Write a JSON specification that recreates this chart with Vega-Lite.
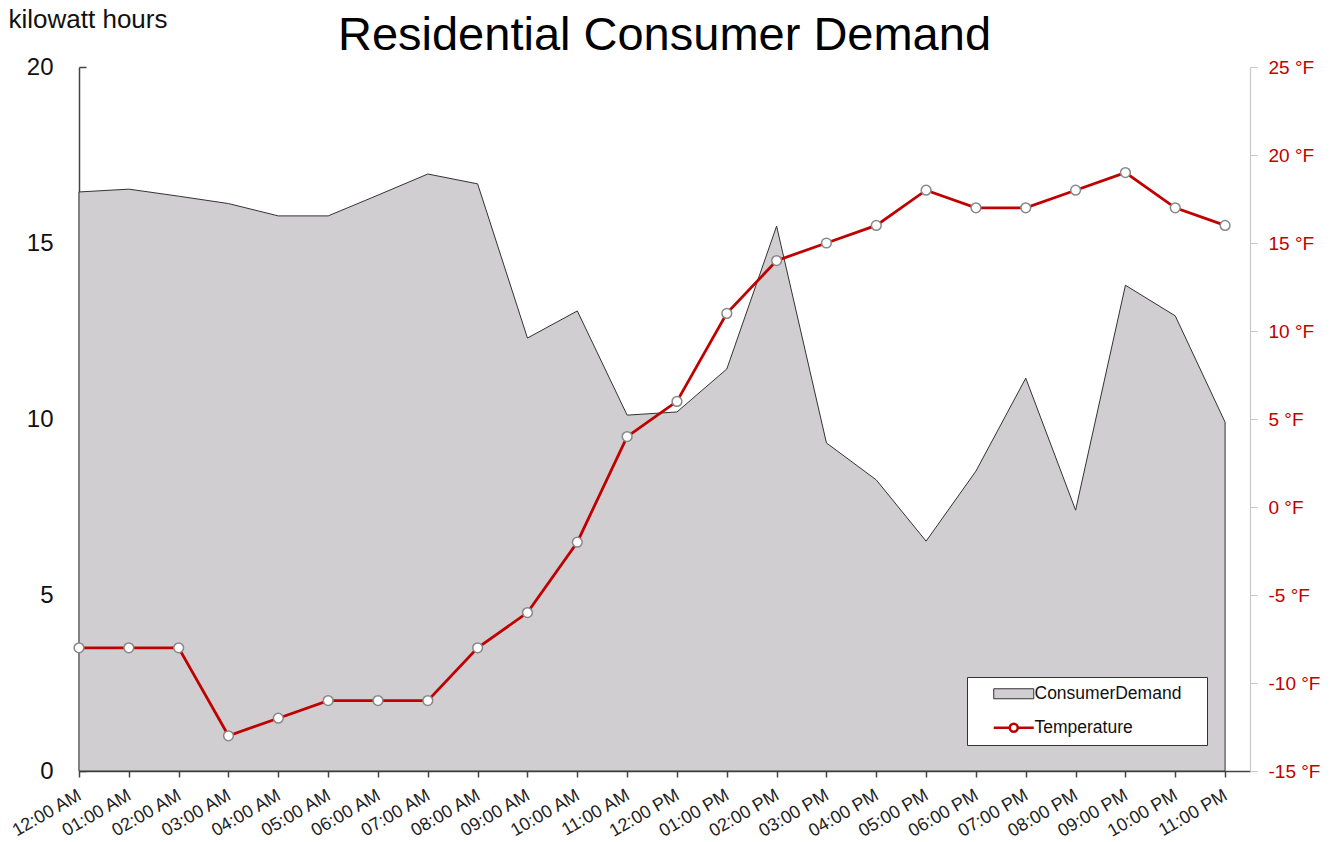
{
  "$schema": "https://vega.github.io/schema/vega-lite/v6.json",
  "width": 1171,
  "height": 704,
  "autosize": {"type": "none"},
  "padding": {"left": 79, "top": 67, "right": 89, "bottom": 71},
  "background": "white",
  "config": {"font": "Liberation Sans", "view": {"stroke": null}},
  "title": {"text": "Residential Consumer Demand", "fontSize": 47, "font": "Liberation Sans", "fontWeight": "normal", "color": "black", "anchor": "middle", "offset": 15, "baseline": "alphabetic", "dy": 106},
  "data": {"values": [
    {"h": 0, "demand": 16.45, "temp": -8},
    {"h": 1, "demand": 16.53, "temp": -8},
    {"h": 2, "demand": 16.33, "temp": -8},
    {"h": 3, "demand": 16.12, "temp": -13},
    {"h": 4, "demand": 15.77, "temp": -12},
    {"h": 5, "demand": 15.77, "temp": -11},
    {"h": 6, "demand": 16.36, "temp": -11},
    {"h": 7, "demand": 16.96, "temp": -11},
    {"h": 8, "demand": 16.68, "temp": -8},
    {"h": 9, "demand": 12.3, "temp": -6},
    {"h": 10, "demand": 13.07, "temp": -2},
    {"h": 11, "demand": 10.11, "temp": 4},
    {"h": 12, "demand": 10.2, "temp": 6},
    {"h": 13, "demand": 11.42, "temp": 11},
    {"h": 14, "demand": 15.48, "temp": 14},
    {"h": 15, "demand": 9.32, "temp": 15},
    {"h": 16, "demand": 8.27, "temp": 16},
    {"h": 17, "demand": 6.53, "temp": 18},
    {"h": 18, "demand": 8.52, "temp": 17},
    {"h": 19, "demand": 11.16, "temp": 17},
    {"h": 20, "demand": 7.41, "temp": 18},
    {"h": 21, "demand": 13.8, "temp": 19},
    {"h": 22, "demand": 12.93, "temp": 17},
    {"h": 23, "demand": 9.91, "temp": 16}
  ]},
  "encoding": {
    "x": {
      "field": "h", "type": "quantitative",
      "scale": {"domain": [0, 23.5], "nice": false, "zero": false},
      "axis": {
        "title": null, "grid": false,
        "values": [0,1,2,3,4,5,6,7,8,9,10,11,12,13,14,15,16,17,18,19,20,21,22,23],
        "labelExpr": "['12:00 AM','01:00 AM','02:00 AM','03:00 AM','04:00 AM','05:00 AM','06:00 AM','07:00 AM','08:00 AM','09:00 AM','10:00 AM','11:00 AM','12:00 PM','01:00 PM','02:00 PM','03:00 PM','04:00 PM','05:00 PM','06:00 PM','07:00 PM','08:00 PM','09:00 PM','10:00 PM','11:00 PM'][datum.value]",
        "labelAngle": -30, "labelAlign": "right", "labelBaseline": "top",
        "labelFontSize": 18, "labelColor": "#222", "labelPadding": 9, "labelOffset": -4,
        "domainColor": "#444", "domainWidth": 1.5, "tickColor": "#444", "tickWidth": 1.5, "tickSize": 6,
        "labelFlush": false, "labelOverlap": false
      }
    }
  },
  "layer": [
    {
      "mark": {"type": "area", "fill": "#D0CED0", "stroke": "#333", "strokeWidth": 1, "fillOpacity": 1},
      "encoding": {
        "y": {
          "field": "demand", "type": "quantitative",
          "scale": {"domain": [0, 20], "nice": false},
          "axis": {
            "grid": false, "values": [0, 5, 10, 15, 20],
            "labelFontSize": 24, "labelColor": "#111", "labelPadding": 33,
            "domainColor": "#444", "domainWidth": 1.5, "tickColor": "#444", "tickWidth": 1.5, "tickSize": -7,
            "title": "kilowatt hours", "titleAngle": 0, "titleAlign": "left", "titleBaseline": "alphabetic",
            "titleX": -71, "titleY": -40, "titleFontSize": 26, "titleFontWeight": "normal", "titleColor": "#111",
            "labelFlush": false
          }
        }
      }
    },
    {
      "layer": [
        {
          "mark": {"type": "line", "strokeWidth": 2.8},
          "encoding": {
            "y": {
              "field": "temp", "type": "quantitative",
              "scale": {"domain": [-15, 25], "nice": false, "zero": false},
              "axis": {
                "orient": "right", "grid": false, "title": null,
                "values": [-15, -10, -5, 0, 5, 10, 15, 20, 25],
                "labelExpr": "datum.value + ' °F'",
                "labelColor": "#C00000", "labelFontSize": 19, "labelPadding": 11,
                "domainColor": "#c8c8c8", "tickColor": "#c8c8c8", "tickSize": 7, "domainWidth": 1.2,
                "labelFlush": false
              }
            },
            "color": {
              "datum": "Temperature", "type": "nominal",
              "scale": {"domain": ["ConsumerDemand", "Temperature"], "range": ["#333333", "#C00000"]},
              "legend": {
                "orient": "none", "legendX": 888, "legendY": 610, "title": null,
                "fillColor": "white", "strokeColor": "#333", "padding": 8,
                "labelFontSize": 17.5, "labelColor": "#111", "rowPadding": 15, "labelLimit": 400,
                "symbolSize": 400, "labelOffset": 42,
                "labelExpr": "datum.label + '\u2003\u200b'",
                "encode": {
                  "symbols": {
                    "update": {
                      "shape": {"signal": "datum.value === 'Temperature' ? 'M1,0H2.6M3.4,0H5M2.6,0A0.4,0.4,0,1,0,3.4,0A0.4,0.4,0,1,0,2.6,0' : 'M1,-0.5H5V0.5H1Z'"},
                      "fill": {"signal": "datum.value === 'Temperature' ? 'white' : '#D0CED0'"},
                      "strokeWidth": {"signal": "datum.value === 'Temperature' ? 2.5 : 1"},
                      "fillOpacity": {"value": 1},
                      "opacity": {"value": 1}
                    }
                  }
                }
              }
            }
          }
        },
        {
          "mark": {"type": "point", "filled": true, "fill": "white", "stroke": "#888", "strokeWidth": 1.5, "size": 95, "opacity": 1},
          "encoding": {
            "y": {"field": "temp", "type": "quantitative"}
          }
        }
      ]
    }
  ],
  "resolve": {"scale": {"y": "independent"}}
}
